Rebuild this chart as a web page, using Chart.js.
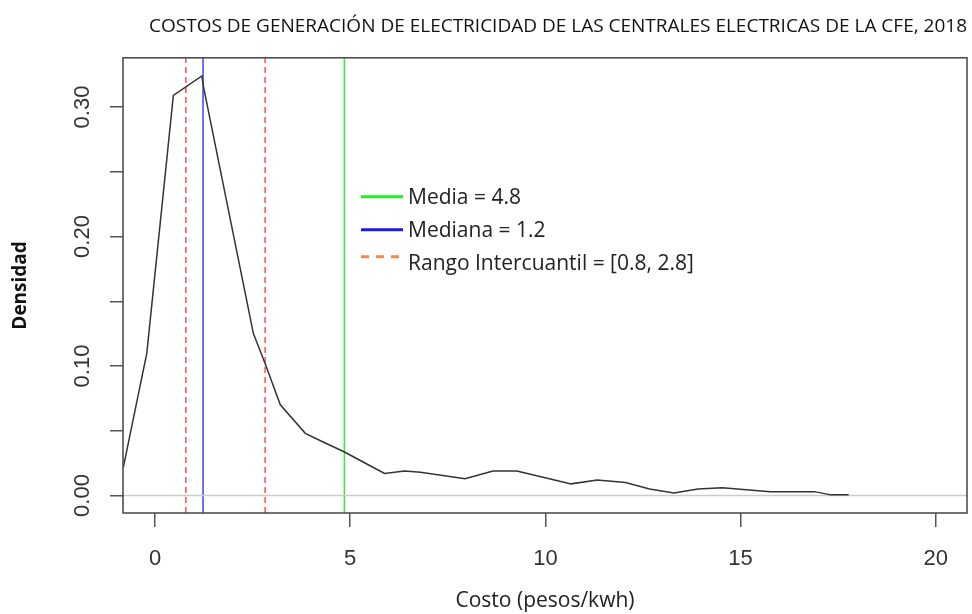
<!DOCTYPE html>
<html>
<head>
<meta charset="utf-8">
<script src="https://cdn.jsdelivr.net/npm/chart.js@4.4.0/dist/chart.umd.min.js"></script>
<style>
  html, body { margin: 0; padding: 0; background: #fff; }
  #wrap { width: 972px; height: 614px; }
</style>
</head>
<body>
<div id="wrap"><canvas id="densityChart"></canvas></div>
<script>
// density curve
const costo = [-0.81, -0.21, 0.47, 1.20, 1.24, 2.52, 2.82, 3.21, 3.85, 4.40, 4.83, 5.51, 5.88, 6.39, 6.80,
  7.94, 8.66, 9.27, 10.66, 11.33, 12.05, 12.67, 13.29, 13.91, 14.53, 15.76, 16.89, 17.31, 17.77];
const densidad = [0.022, 0.110, 0.309, 0.324, 0.316, 0.125, 0.102, 0.070, 0.048, 0.040, 0.034, 0.023, 0.017,
  0.019, 0.018, 0.013, 0.019, 0.019, 0.009, 0.012, 0.010, 0.005, 0.002, 0.005, 0.006, 0.003, 0.003, 0.0005, 0.0005];

const xTicks = [0, 5, 10, 15, 20];
const yTicks = [0, 0.05, 0.10, 0.15, 0.20, 0.25, 0.30];
const yTickLabels = ["0.00", "", "0.10", "", "0.20", "", "0.30"];

// vertical reference lines
const media = 4.85;
const mediana = 1.23;
const q1 = 0.79;
const q3 = 2.82;
const legendLabels = ["Media = 4.8", "Mediana = 1.2", "Rango Intercuantil = [0.8, 2.8]"];

const xMin = -0.82, xMax = 20.8;
const yMin = -0.0135, yMax = 0.338;

const vline = (x) => [{ x: x, y: yMin }, { x: x, y: yMax }];

const boxAndLegend = {
  id: "boxAndLegend",
  afterDraw(chart) {
    const { ctx, chartArea: a } = chart;
    ctx.save();
    ctx.strokeStyle = "#444";
    ctx.lineWidth = 1.5;
    ctx.strokeRect(a.left, a.top, a.right - a.left, a.bottom - a.top);

    // legend
    const lx = a.left + 238, ly = a.top + 139;
    const colors = ["#22ee22", "#1a1aee", "#f08a4b"];
    ctx.font = "21px 'Open Sans'";
    ctx.textBaseline = "middle";
    ctx.fillStyle = "#222";
    legendLabels.forEach((lab, i) => {
      const y = ly + i * 33;
      ctx.strokeStyle = colors[i];
      ctx.lineWidth = 3;
      ctx.setLineDash(i === 2 ? [8, 7] : []);
      ctx.beginPath();
      ctx.moveTo(lx, i === 2 ? y - 6 : y);
      ctx.lineTo(lx + 42, i === 2 ? y - 6 : y);
      ctx.stroke();
      ctx.fillText(lab, lx + 47, y + 1);
    });
    ctx.restore();
  }
};

new Chart(document.getElementById("densityChart"), {
  type: "line",
  data: {
    datasets: [
      {
        data: costo.map((x, i) => ({ x: x, y: densidad[i] })),
        borderColor: "#333",
        borderWidth: 1.5,
        pointRadius: 0,
        tension: 0
      },
      {
        data: [{ x: xMin, y: 0 }, { x: xMax, y: 0 }],
        borderColor: "#cccccc",
        borderWidth: 1.5,
        pointRadius: 0
      },
      { data: vline(media), borderColor: "#33ee33", borderWidth: 1.5, pointRadius: 0 },
      { data: vline(mediana), borderColor: "#4040ff", borderWidth: 1.5, pointRadius: 0 },
      { data: vline(q1), borderColor: "#ff4d4d", borderWidth: 1.5, borderDash: [6, 4], pointRadius: 0 },
      { data: vline(q3), borderColor: "#ff4d4d", borderWidth: 1.5, borderDash: [6, 4], pointRadius: 0 }
    ]
  },
  options: {
    responsive: true,
    maintainAspectRatio: false,
    animation: false,
    layout: { padding: { top: 0, right: 5, left: 0, bottom: 0 } },
    plugins: {
      legend: { display: false },
      tooltip: { enabled: false },
      title: {
        display: true,
        text: "COSTOS DE GENERACIÓN DE ELECTRICIDAD DE LAS CENTRALES ELECTRICAS DE LA CFE, 2018",
        align: "end",
        color: "#111",
        font: { family: "Open Sans", size: 19, weight: "normal" },
        padding: { top: 15, bottom: 20 }
      }
    },
    scales: {
      x: {
        type: "linear",
        min: xMin,
        max: xMax,
        afterBuildTicks: (s) => { s.ticks = xTicks.map((v) => ({ value: v })); },
        afterFit: (s) => { s.height = 101; },
        grid: { drawOnChartArea: false, tickLength: 14, color: "#555", lineWidth: 1.5 },
        border: { display: false },
        ticks: {
          padding: 19,
          color: "#333",
          font: { family: "Liberation Sans", size: 22 },
          maxRotation: 0,
          autoSkip: false
        },
        title: {
          display: true,
          text: "Costo (pesos/kwh)",
          color: "#222",
          font: { family: "Open Sans", size: 21 },
          padding: 0
        }
      },
      y: {
        min: yMin,
        max: yMax,
        afterBuildTicks: (s) => { s.ticks = yTicks.map((v) => ({ value: v })); },
        afterFit: (s) => { s.width = 123; },
        grid: { drawOnChartArea: false, tickLength: 13, color: "#555", lineWidth: 1.5 },
        border: { display: false },
        ticks: {
          padding: 6,
          color: "#333",
          font: { family: "Liberation Sans", size: 22 },
          minRotation: 90,
          maxRotation: 90,
          crossAlign: "center",
          autoSkip: false,
          callback: (v, i) => yTickLabels[i]
        },
        title: {
          display: true,
          text: "Densidad",
          color: "#111",
          font: { family: "Open Sans", size: 19, weight: "bold" },
          padding: { top: 9, bottom: 0 }
        }
      }
    }
  },
  plugins: [boxAndLegend]
});
</script>
</body>
</html>
